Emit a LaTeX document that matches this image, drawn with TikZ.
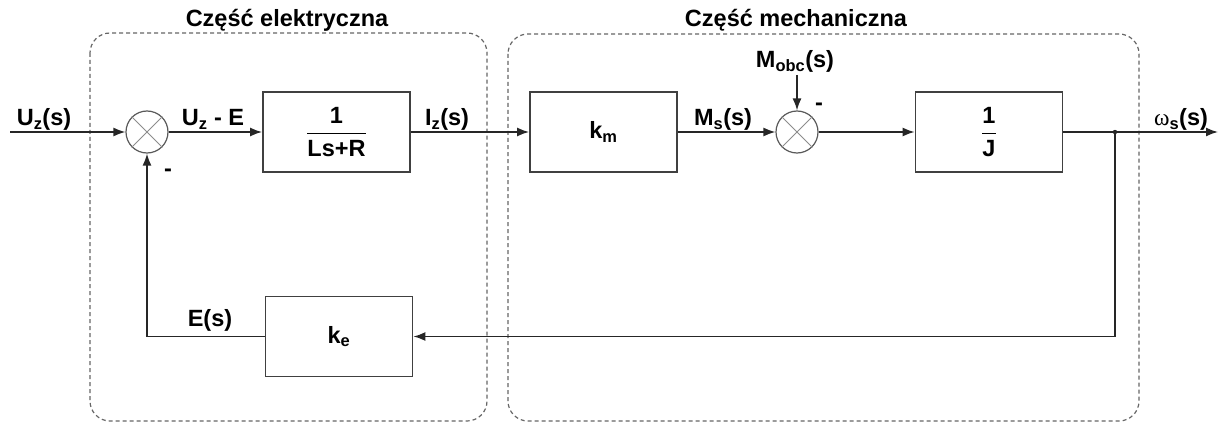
\documentclass[tikz,border=0pt]{standalone}
\usepackage{fontspec}
\setmainfont{Liberation Sans}
\newfontfamily\grk{Liberation Serif}
\usetikzlibrary{arrows.meta}
\begin{document}
\begin{tikzpicture}[x=1pt,y=-1pt,>={Latex[length=12pt,width=9pt]},
    font=\fontsize{23.5}{28}\selectfont\bfseries,
    blk/.style={draw=black!75,line width=1.8pt,minimum width=147pt,minimum height=80pt,inner sep=0pt},
    sumpt/.style={draw=black!65,line width=1.2pt,circle,minimum size=42pt,inner sep=0pt},
    krzyz/.style={draw=black!45,line width=1pt},
    sig/.style={draw=black!85,line width=1.6pt},
    part/.style={draw=black!60,line width=1.2pt,dash pattern=on 4pt off 3pt,rounded corners=20pt},
    lbl/.style={anchor=base,inner sep=0pt}]
\useasboundingbox (0,0) rectangle (1220,425);
% obszary
\draw[part] (90,33) rectangle (487,421);
\draw[part] (508,34) rectangle (1139,421);
\node[lbl] (tel) at (287,27) {Część elektryczna};
\node[lbl] (tme) at (796,27) {Część mechaniczna};
% bloki
\node[sumpt] (s1) at (147,132) {};
\node[blk] (g1) at (336.5,132) {$\displaystyle\frac{\textbf{1}}{\textbf{Ls+R}}$};
\node[blk] (km) at (603.5,132) {k\textsubscript{m}};
\node[sumpt] (s2) at (797,132) {};
\node[blk] (gJ) at (989,132) {$\displaystyle\frac{\textbf{1}}{\textbf{J}}$};
\node[blk] (ke) at (339,336.5) {k\textsubscript{e}};
\draw[krzyz] (s1.north west) -- (s1.south east) (s1.north east) -- (s1.south west);
\draw[krzyz] (s2.north west) -- (s2.south east) (s2.north east) -- (s2.south west);
% punkty
\coordinate (we) at (10,132);
\coordinate (wy) at (1218,132);
\coordinate (odg) at (1115,132);
\coordinate (obc) at (797,75);
% sygnaly
\draw[sig,->] (we) -- (s1);
\draw[sig,->] (s1) -- (g1);
\draw[sig,->] (g1) -- (km);
\draw[sig,->] (km) -- (s2);
\draw[sig,->] (s2) -- (gJ);
\draw[sig,->] (gJ) -- (wy);
\draw[sig,->] (obc) -- (s2);
\draw[sig,->] (odg) |- (ke);
\draw[sig,->] (ke) -| (s1);
\fill[black!85] (odg) circle (2.2pt);
% opisy
\node[lbl] (uz) at (44,126) {U\textsubscript{z}(s)};
\node[lbl] (ue) at (213,126) {U\textsubscript{z} - E};
\node[lbl] (iz) at (447,126) {I\textsubscript{z}(s)};
\node[lbl] (ms) at (723,126) {M\textsubscript{s}(s)};
\node[lbl] (mo) at (795,68) {M\textsubscript{obc}(s)};
\node[lbl] (om) at (1181,126) {{\grk\mdseries ω}\textsubscript{s}(s)};
\node[lbl] (es) at (210,326) {E(s)};
\node (m1) at (168,173) {-};
\node (m2) at (819,107) {-};
\end{tikzpicture}
\end{document}
